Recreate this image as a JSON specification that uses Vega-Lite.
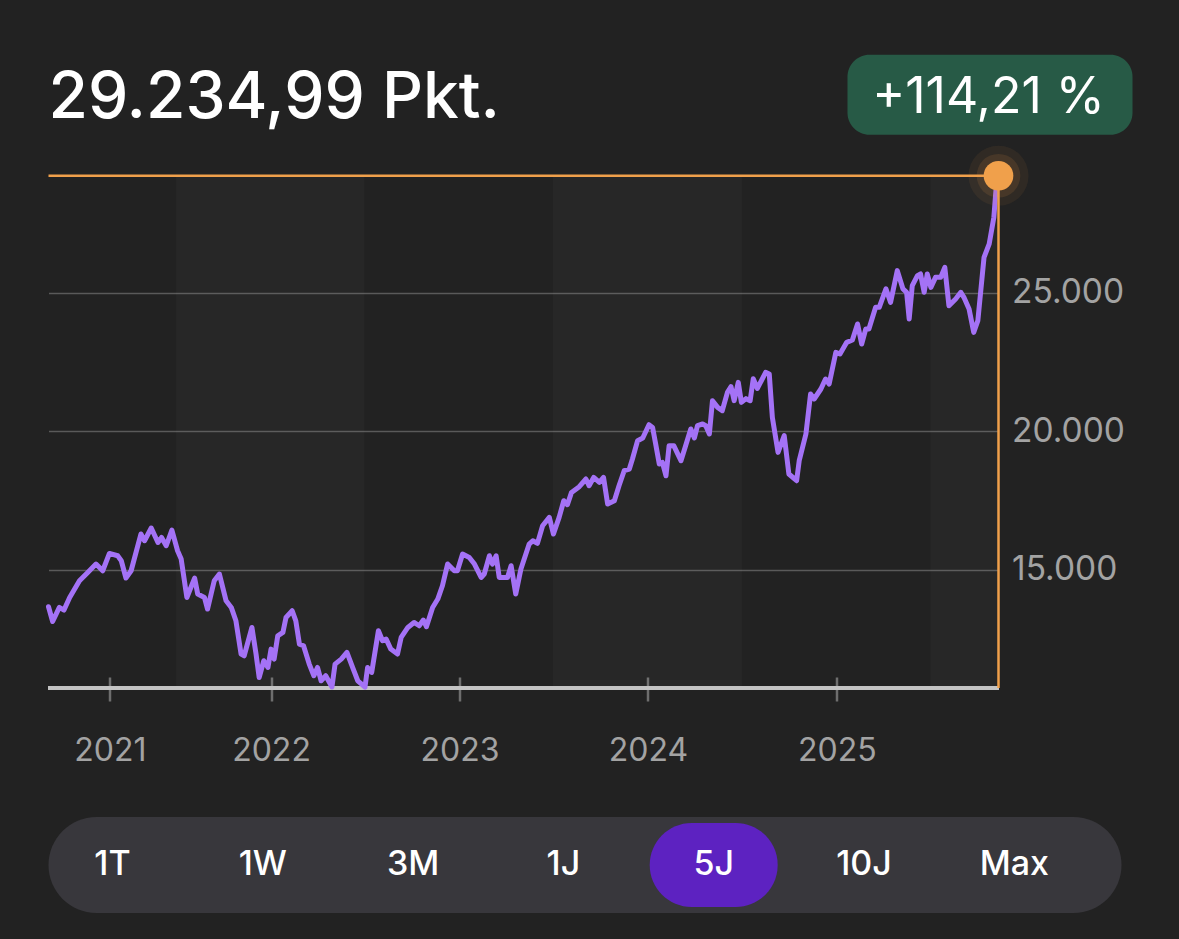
{
 "$schema": "https://vega.github.io/schema/vega-lite/v6.json",
 "background": "#222222",
 "padding": {"left": 45.5, "top": 54, "right": 47, "bottom": 26.75},
 "config": {"font": "Inter", "view": {"stroke": null}},
 "bounds": "flush",
 "spacing": 129,
 "datasets": {
  "prices": [
   {"date":"2020-10-27","value":13660},{"date":"2020-11-04","value":13128},{"date":"2020-11-17","value":13635},{"date":"2020-11-26","value":13540},{"date":"2020-12-07","value":13996},{"date":"2020-12-26","value":14600},
   {"date":"2021-01-11","value":14900},{"date":"2021-01-27","value":15203},{"date":"2021-02-09","value":14961},{"date":"2021-02-22","value":15587},{"date":"2021-03-10","value":15503},{"date":"2021-03-17","value":15323},{"date":"2021-03-26","value":14697},{"date":"2021-04-05","value":14961},{"date":"2021-04-24","value":16288},{"date":"2021-05-01","value":16046},{"date":"2021-05-14","value":16505},{"date":"2021-05-27","value":15984},{"date":"2021-06-03","value":16165},{"date":"2021-06-12","value":15865},{"date":"2021-06-23","value":16432},{"date":"2021-07-04","value":15684},{"date":"2021-07-11","value":15384},{"date":"2021-07-22","value":13996},{"date":"2021-08-06","value":14697},{"date":"2021-08-12","value":14119},{"date":"2021-08-25","value":13996},{"date":"2021-08-31","value":13577},{"date":"2021-09-13","value":14600},{"date":"2021-09-23","value":14842},{"date":"2021-10-06","value":13876},{"date":"2021-10-16","value":13635},{"date":"2021-10-25","value":13153},{"date":"2021-11-04","value":11950},{"date":"2021-11-10","value":11889},{"date":"2021-11-25","value":12911},{"date":"2021-12-03","value":11950},{"date":"2021-12-09","value":11104},{"date":"2021-12-18","value":11708},{"date":"2021-12-26","value":11466},
   {"date":"2022-01-01","value":12130},{"date":"2022-01-07","value":11768},{"date":"2022-01-14","value":12611},{"date":"2022-01-24","value":12731},{"date":"2022-01-30","value":13273},{"date":"2022-02-11","value":13515},{"date":"2022-02-18","value":13153},{"date":"2022-02-25","value":12311},{"date":"2022-03-05","value":12250},{"date":"2022-03-16","value":11588},{"date":"2022-03-25","value":11166},{"date":"2022-04-01","value":11466},{"date":"2022-04-08","value":10985},{"date":"2022-04-17","value":11166},{"date":"2022-04-29","value":10760},{"date":"2022-05-05","value":11588},{"date":"2022-05-17","value":11768},{"date":"2022-05-28","value":12008},{"date":"2022-06-08","value":11466},{"date":"2022-06-18","value":10985},{"date":"2022-07-02","value":10760},{"date":"2022-07-07","value":11466},{"date":"2022-07-15","value":11285},{"date":"2022-07-28","value":12792},{"date":"2022-08-05","value":12431},{"date":"2022-08-12","value":12492},{"date":"2022-08-21","value":12130},{"date":"2022-09-03","value":11950},{"date":"2022-09-10","value":12550},{"date":"2022-09-23","value":12912},{"date":"2022-10-05","value":13092},{"date":"2022-10-15","value":12973},{"date":"2022-10-23","value":13179},{"date":"2022-10-29","value":12937},{"date":"2022-11-10","value":13635},{"date":"2022-11-20","value":13938},{"date":"2022-11-29","value":14419},{"date":"2022-12-09","value":15203},{"date":"2022-12-22","value":14961},{"date":"2022-12-28","value":14961},
   {"date":"2023-01-07","value":15565},{"date":"2023-01-20","value":15442},{"date":"2023-01-30","value":15203},{"date":"2023-02-12","value":14719},{"date":"2023-02-18","value":14842},{"date":"2023-02-28","value":15503},{"date":"2023-03-06","value":15203},{"date":"2023-03-13","value":15503},{"date":"2023-03-19","value":14719},{"date":"2023-04-04","value":14719},{"date":"2023-04-11","value":15142},{"date":"2023-04-20","value":14119},{"date":"2023-04-30","value":15022},{"date":"2023-05-16","value":15926},{"date":"2023-05-23","value":16046},{"date":"2023-06-01","value":15950},{"date":"2023-06-11","value":16588},{"date":"2023-06-24","value":16889},{"date":"2023-07-02","value":16288},{"date":"2023-07-13","value":16889},{"date":"2023-07-22","value":17492},{"date":"2023-07-29","value":17347},{"date":"2023-08-06","value":17792},{"date":"2023-08-21","value":17998},{"date":"2023-09-03","value":18276},{"date":"2023-09-09","value":18034},{"date":"2023-09-18","value":18334},{"date":"2023-09-29","value":18153},{"date":"2023-10-07","value":18334},{"date":"2023-10-15","value":17372},{"date":"2023-10-28","value":17492},{"date":"2023-11-06","value":18034},{"date":"2023-11-16","value":18576},{"date":"2023-11-26","value":18637},{"date":"2023-12-02","value":18999},{"date":"2023-12-12","value":19661},{"date":"2023-12-22","value":19758},
   {"date":"2024-01-03","value":20239},{"date":"2024-01-10","value":20141},{"date":"2024-01-16","value":19542},{"date":"2024-01-23","value":18818},{"date":"2024-01-29","value":18876},{"date":"2024-02-05","value":18395},{"date":"2024-02-11","value":19480},{"date":"2024-02-20","value":19480},{"date":"2024-03-05","value":18938},{"date":"2024-03-14","value":19480},{"date":"2024-03-24","value":20084},{"date":"2024-03-31","value":19758},{"date":"2024-04-06","value":20203},{"date":"2024-04-16","value":20264},{"date":"2024-04-22","value":20203},{"date":"2024-04-29","value":19903},{"date":"2024-05-05","value":21107},{"date":"2024-05-15","value":20864},{"date":"2024-05-24","value":20745},{"date":"2024-06-03","value":21407},{"date":"2024-06-10","value":21613},{"date":"2024-06-16","value":21107},{"date":"2024-06-24","value":21768},{"date":"2024-06-30","value":21045},{"date":"2024-07-09","value":21180},{"date":"2024-07-17","value":21107},{"date":"2024-07-23","value":21900},{"date":"2024-07-31","value":21550},{"date":"2024-08-16","value":22130},{"date":"2024-08-23","value":22072},{"date":"2024-08-29","value":20503},{"date":"2024-09-09","value":19238},{"date":"2024-09-21","value":19842},{"date":"2024-09-30","value":18457},{"date":"2024-10-15","value":18214},{"date":"2024-10-20","value":18938},{"date":"2024-11-02","value":19903},{"date":"2024-11-11","value":21349},{"date":"2024-11-18","value":21168},{"date":"2024-12-01","value":21529},{"date":"2024-12-10","value":21890},{"date":"2024-12-17","value":21709},{"date":"2024-12-30","value":22853},
   {"date":"2025-01-07","value":22795},{"date":"2025-01-20","value":23214},{"date":"2025-01-31","value":23301},{"date":"2025-02-10","value":23879},{"date":"2025-02-18","value":23156},{"date":"2025-02-26","value":23699},{"date":"2025-03-04","value":23699},{"date":"2025-03-17","value":24479},{"date":"2025-03-24","value":24479},{"date":"2025-04-06","value":25145},{"date":"2025-04-15","value":24660},{"date":"2025-04-28","value":25806},{"date":"2025-05-09","value":25145},{"date":"2025-05-16","value":25022},{"date":"2025-05-21","value":24060},{"date":"2025-05-27","value":25264},{"date":"2025-06-06","value":25626},{"date":"2025-06-12","value":25687},{"date":"2025-06-19","value":25022},{"date":"2025-06-25","value":25687},{"date":"2025-07-02","value":25202},{"date":"2025-07-11","value":25564},{"date":"2025-07-21","value":25564},{"date":"2025-07-29","value":25925},{"date":"2025-08-06","value":24541},{"date":"2025-08-19","value":24783},{"date":"2025-08-29","value":25022},{"date":"2025-09-04","value":24841},{"date":"2025-09-14","value":24422},{"date":"2025-09-23","value":23576},{"date":"2025-10-01","value":23999},{"date":"2025-10-13","value":26287},{"date":"2025-10-23","value":26771},{"date":"2025-11-01","value":27733},{"date":"2025-11-05","value":28698},{"date":"2025-11-10","value":29234.99}
  ],
  "bands": [
   {"start":"2021-07-01","end":"2022-07-01"},
   {"start":"2023-07-01","end":"2024-07-01"},
   {"start":"2025-07-01","end":"2025-11-10"}
  ],
  "buttons": [
   {"label":"1T","selected":false},{"label":"1W","selected":false},{"label":"3M","selected":false},{"label":"1J","selected":false},{"label":"5J","selected":true},{"label":"10J","selected":false},{"label":"Max","selected":false}
  ]
 },
 "vconcat": [
  {
   "width": 950,
   "height": 513,
   "title": {"text": "29.234,99 Pkt.", "anchor": "start", "frame": "group", "fontSize": 64, "fontWeight": 500, "color": "#ffffff", "baseline": "alphabetic", "offset": -127.5},
   "layer": [
    {
     "data": {"name": "bands"},
     "mark": {"type": "rect", "color": "#ffffff", "opacity": 0.025},
     "encoding": {
      "x": {"field": "start", "type": "temporal", "scale": {"domain": [{"year":2020,"month":10,"date":27,"utc":true},{"year":2025,"month":11,"date":10,"utc":true}]}, "axis": {"title": null}},
      "x2": {"field": "end"}
     }
    },
    {
     "data": {"name": "prices"},
     "mark": {"type": "rule", "color": "#c4c4c4", "strokeWidth": 3},
     "encoding": {
      "y": {"datum": 10724, "type": "quantitative", "scale": {"domain": [10724, 29262], "nice": false, "zero": false}, "axis": {"title": null}}
     }
    },
    {
     "data": {"name": "prices"},
     "mark": {"type": "line", "color": "#a472f6", "strokeWidth": 5, "strokeJoin": "round", "strokeCap": "round"},
     "encoding": {
      "x": {"field": "date", "type": "temporal",
            "scale": {"domain": [{"year":2020,"month":10,"date":27,"utc":true},{"year":2025,"month":11,"date":10,"utc":true}]},
            "axis": {"title": null, "values": [{"year":2021,"month":2,"date":23,"utc":true},{"year":2022,"month":1,"date":1,"utc":true},{"year":2023,"month":1,"date":1,"utc":true},{"year":2024,"month":1,"date":1,"utc":true},{"year":2025,"month":1,"date":1,"utc":true}],
                     "labelExpr": "utcFormat(datum.value, '%Y')", "domain": false, "grid": false, "offset": -11, "tickSize": 24, "tickWidth": 2.5, "tickColor": "#6e6e6e",
                     "labelColor": "#a3a3a3", "labelFontSize": 32, "labelPadding": 34, "labelFlush": false, "labelOverlap": false}},
      "y": {"field": "value", "type": "quantitative",
            "scale": {"domain": [10724, 29262], "nice": false, "zero": false},
            "axis": {"title": null, "orient": "right", "values": [15000, 20000, 25000], "labelExpr": "replace(format(datum.value, ','), ',', '.')",
                     "domain": false, "ticks": false, "grid": true, "gridColor": "#5a5a5a", "gridWidth": 1.5,
                     "labelColor": "#a3a3a3", "labelFontSize": 33.5, "labelPadding": 13, "labelAlign": "left", "labelBaseline": "middle"}}
     }
    },
    {
     "data": {"name": "prices"},
     "transform": [
      {"window": [{"op": "row_number", "as": "rn"}], "sort": [{"field": "date", "order": "descending"}]},
      {"filter": "datum.rn == 1"}
     ],
     "encoding": {
      "x": {"field": "date", "type": "temporal", "scale": {"domain": [{"year":2020,"month":10,"date":27,"utc":true},{"year":2025,"month":11,"date":10,"utc":true}]}, "axis": {"title": null}},
      "y": {"field": "value", "type": "quantitative", "scale": {"domain": [10724, 29262], "nice": false, "zero": false}, "axis": {"title": null}}
     },
     "layer": [
      {"mark": {"type": "rule", "color": "#f0a04b", "strokeWidth": 2.5}, "encoding": {"x": null}},
      {"mark": {"type": "rule", "color": "#f0a04b", "strokeWidth": 2.5}, "encoding": {"y": null}},
      {"mark": {"type": "point", "filled": true, "color": "#f0a04b", "opacity": 0.07, "size": 3600}},
      {"mark": {"type": "point", "filled": true, "color": "#f0a04b", "opacity": 0.12, "size": 1900}},
      {"mark": {"type": "point", "filled": true, "color": "#f0a04b", "opacity": 1, "size": 880}},
      {"mark": {"type": "rect", "color": "#275a46", "cornerRadius": 22, "xOffset": -151, "x2Offset": 134, "yOffset": -121, "y2Offset": -41},
       "encoding": {"x2": {"field": "date"}, "y2": {"field": "value"}}},
      {"mark": {"type": "text", "color": "#ffffff", "fontSize": 50, "fontWeight": 400, "align": "center", "baseline": "alphabetic", "dx": -10, "dy": -63},
       "encoding": {"text": {"value": "+114,21 %"}}}
     ]
    }
   ]
  },
  {
   "width": 1073,
   "height": 96,
   "view": {"fill": "#38373c", "cornerRadius": 48, "stroke": null},
   "data": {"name": "buttons"},
   "encoding": {
    "x": {"field": "label", "type": "nominal", "sort": null,
          "scale": {"domain": ["1T","1W","3M","1J","5J","10J","Max"], "paddingInner": 0.1484, "paddingOuter": 0.1437, "align": 0}, "axis": null},
    "y": {"datum": "Zeitraum", "type": "nominal", "scale": {"paddingInner": 0, "paddingOuter": 0.0714}, "axis": null}
   },
   "layer": [
    {"transform": [{"filter": "datum.selected"}], "mark": {"type": "bar", "color": "#5d22c1", "cornerRadius": 42}},
    {"mark": {"type": "text", "color": "#ffffff", "fontSize": 34, "fontWeight": 500, "baseline": "middle", "align": "center"},
     "encoding": {"text": {"field": "label"}}}
   ]
  }
 ]
}
